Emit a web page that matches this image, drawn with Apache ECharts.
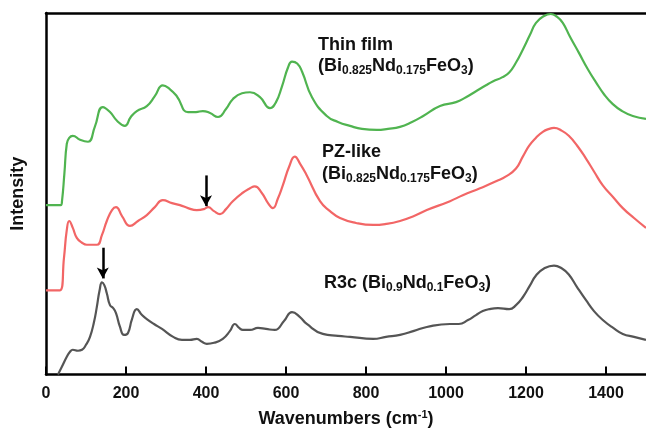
<!DOCTYPE html>
<html>
<head>
<meta charset="utf-8">
<script src="https://cdn.jsdelivr.net/npm/echarts@6/dist/echarts.min.js"></script>
<style>html,body{margin:0;padding:0;background:#fff;}#c{width:646px;height:433px;}</style>
</head>
<body>
<div id="c"></div>
<script>
// Thin film (green)
const thinW = [0,37,40,46,52,58,67,85,105,122,142,160,178,197,212,227,252,272,292,310,327,355,375,392,410,430,450,467,490,510,535,560,575,590,605,615,628,640,665,702,730,760,790,827,855,885,915,943,985,1025,1050,1075,1100,1118,1140,1158,1175,1192,1210,1225,1245,1262,1278,1292,1310,1332,1355,1375,1395,1417,1440,1467,1500];
const thinV = [171,171,175,203,233,239,241,237,235,250,270,265,256,251,260,266,271,281,292,288,281,265,265,266,264,260,268,278,284,285,280,269,275,291,310,316,314,306,280,261,255,251,248,247,248,250,255,261,271,275,280,286,292,296,300,305,315,328,343,355,362,364,361,355,341,325,308,295,283,273,266,261,258];
// PZ-like (red)
const pzW = [0,35,45,52,58,67,77,90,102,127,140,152,165,175,190,210,230,252,272,292,315,335,355,377,395,405,420,435,450,467,490,510,522,540,555,567,580,592,608,622,635,652,685,710,735,775,818,850,885,920,952,1010,1042,1085,1125,1150,1175,1192,1208,1225,1242,1258,1270,1290,1307,1328,1350,1370,1392,1418,1442,1470,1500];
const pzV = [85,85,118,146,155,148,138,133,131,131,141,155,166,169,160,150,155,161,169,176,173,171,168,166,167,169,165,162,167,175,183,188,190,183,173,168,178,191,210,220,213,201,175,165,158,153,151,152,155,160,166,175,181,188,195,200,208,220,231,239,245,248,249,246,241,231,218,205,191,179,168,158,148];
// R3c (grey)
const r3cW = [30,40,52,60,67,80,90,100,110,120,127,134,140,146,152,160,168,175,185,195,205,215,227,240,252,270,290,318,340,360,377,390,402,420,442,460,472,483,492,510,530,550,572,595,615,635,652,692,730,760,818,850,885,920,952,1010,1032,1055,1075,1092,1108,1130,1158,1175,1192,1210,1225,1245,1270,1290,1307,1328,1350,1370,1392,1418,1442,1470,1500];
const r3cV = [0,8,18,23,25,24,25,30,38,53,68,85,93,90,82,70,67,62,48,40,42,56,66,60,56,51,46,38,35,35,36,33,31,32,36,44,51,47,45,45,47,46,45,54,63,58,51,41,39,38,36,38,40,44,48,51,51,55,60,64,66,67,66,70,78,90,100,107,110,107,101,88,75,64,55,47,41,38,35];
// arrows (start, end) in data coordinates
const arrowPZ = [[400,201],[400,170]];
const arrowR3c = [[142,128],[142,97]];
// x-axis ticks
const xTicks = [0,200,400,600,800,1000,1200,1400];

const FONT = 'Liberation Sans, Arial, Helvetica, sans-serif';
const zip = (w, v) => w.map((x, i) => [x, v[i]]);
const chart = echarts.init(document.getElementById('c'), null, {renderer: 'canvas'});

const rich = {
  n: {fontSize: 18, fontWeight: 'bold', fontFamily: FONT, color: '#111', lineHeight: 21, verticalAlign: 'middle'},
  s: {fontSize: 12, fontWeight: 'bold', fontFamily: FONT, color: '#111', lineHeight: 21, padding: [9, 0, 0, 0], verticalAlign: 'middle'}
};
function formula(parts) {
  return parts.map(p => p[1] ? '{s|' + p[0] + '}' : '{n|' + p[0] + '}').join('');
}
const bndf = formula([['(Bi'],['0.825',1],['Nd'],['0.175',1],['FeO'],['3',1],[')']]);
const bnd9 = formula([['R3c (Bi'],['0.9',1],['Nd'],['0.1',1],['FeO'],['3',1],[')']]);
function txt(x, y, t) {
  return {type: 'text', x: x, y: y, silent: true, style: {text: t, rich: rich, verticalAlign: 'middle', align: 'left', font: 'bold 18px ' + FONT, fill: '#111'}};
}
function arrowLine(a) {
  return {silent: true, symbol: ['none', 'arrow'], symbolSize: [9, 11], label: {show: false},
    lineStyle: {color: '#000', width: 2.5, type: 'solid'},
    emphasis: {disabled: true},
    data: [[{coord: a[0]}, {coord: a[1]}]]};
}
const lineBase = {type: 'line', showSymbol: false, symbol: 'none', smooth: 0.5, silent: true, animation: false};

chart.setOption({
  animation: false,
  backgroundColor: '#fff',
  grid: {left: 46, right: 0, top: 13, bottom: 55, containLabel: false},
  xAxis: [{
    type: 'value', min: 0, max: 1500, interval: 200,
    name: 'Wavenumbers (cm{sup|-1})', nameLocation: 'middle', nameGap: 35,
    nameTextStyle: {fontSize: 18, fontWeight: 'bold', fontFamily: FONT, color: '#111',
      rich: {sup: {fontSize: 11, fontWeight: 'bold', fontFamily: FONT, color: '#111', padding: [0, 0, 8, 0]}}},
    axisLine: {show: true, onZero: false, lineStyle: {color: '#000', width: 2.5}},
    axisTick: {show: true, inside: true, length: 8, customValues: xTicks, lineStyle: {color: '#000', width: 2}},
    axisLabel: {show: true, margin: 11, customValues: xTicks, formatter: v => String(v), fontSize: 16, fontWeight: 'bold', fontFamily: FONT, color: '#111'},
    splitLine: {show: false}
  }, {
    type: 'value', position: 'top', min: 0, max: 1500,
    axisLine: {show: true, onZero: false, lineStyle: {color: '#000', width: 2.5}},
    axisTick: {show: false}, axisLabel: {show: false}, splitLine: {show: false}
  }],
  yAxis: {
    type: 'value', min: 0, max: 365,
    name: 'Intensity', nameLocation: 'middle', nameGap: 19, nameRotate: 90,
    nameTextStyle: {fontSize: 18, fontWeight: 'bold', fontFamily: FONT, color: '#111'},
    axisLine: {show: true, onZero: false, lineStyle: {color: '#000', width: 2.5}},
    axisTick: {show: false}, axisLabel: {show: false}, splitLine: {show: false}
  },
  series: [
    Object.assign({}, lineBase, {name: 'Thin film', data: zip(thinW, thinV), lineStyle: {color: '#50b450', width: 2.2}}),
    Object.assign({}, lineBase, {name: 'PZ-like', data: zip(pzW, pzV), lineStyle: {color: '#f26666', width: 2.2}, markLine: arrowLine(arrowPZ)}),
    Object.assign({}, lineBase, {name: 'R3c', data: zip(r3cW, r3cV), lineStyle: {color: '#555555', width: 2.2}, markLine: arrowLine(arrowR3c)})
  ],
  graphic: [
    txt(318, 45, '{n|Thin film}'),
    txt(318, 66, bndf),
    txt(322, 152, '{n|PZ-like}'),
    txt(322, 174, bndf),
    txt(324, 283, bnd9)
  ]
});
</script>
</body>
</html>
